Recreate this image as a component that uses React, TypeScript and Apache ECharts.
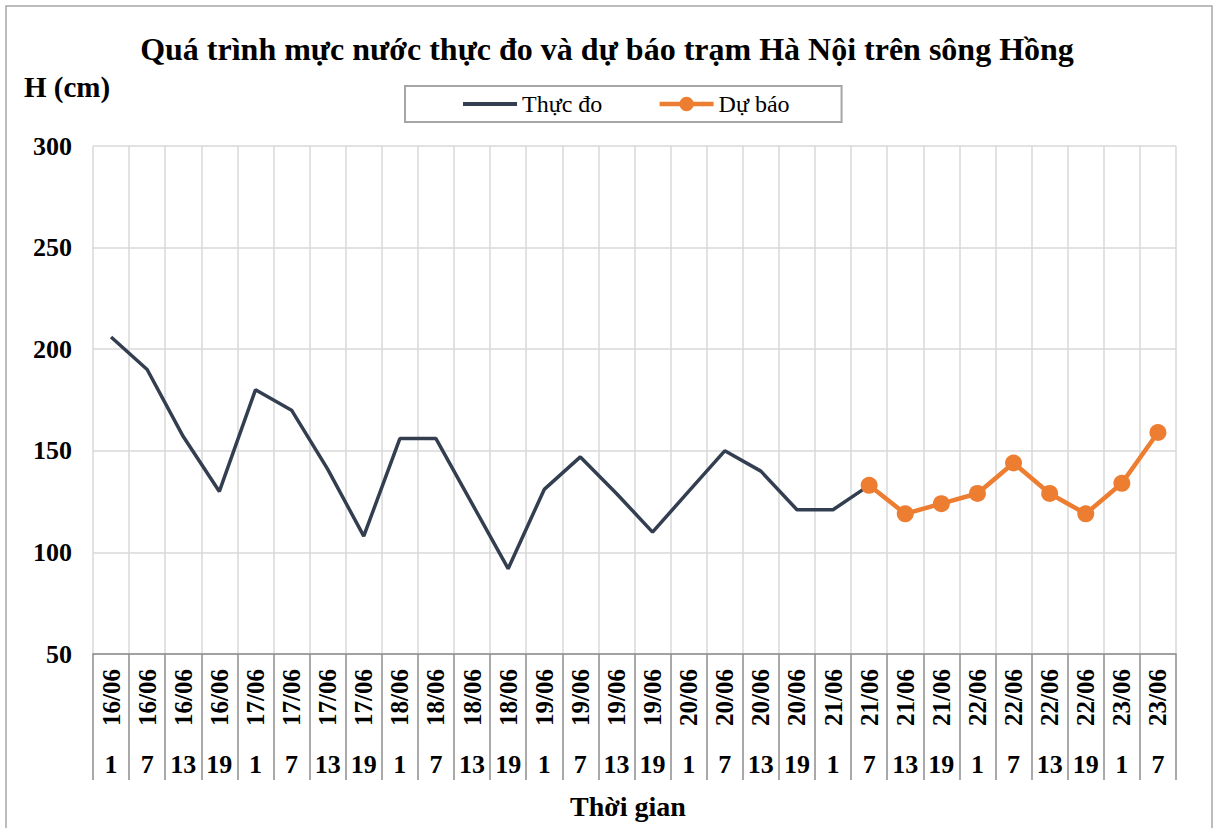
import React, { useEffect, useRef } from "react";
import * as echarts from "echarts";

const dates = [
  "16/06", "16/06", "16/06", "16/06",
  "17/06", "17/06", "17/06", "17/06",
  "18/06", "18/06", "18/06", "18/06",
  "19/06", "19/06", "19/06", "19/06",
  "20/06", "20/06", "20/06", "20/06",
  "21/06", "21/06", "21/06", "21/06",
  "22/06", "22/06", "22/06", "22/06",
  "23/06", "23/06",
];
const hours = [
  "1", "7", "13", "19", "1", "7", "13", "19", "1", "7", "13", "19",
  "1", "7", "13", "19", "1", "7", "13", "19", "1", "7", "13", "19",
  "1", "7", "13", "19", "1", "7",
];
// Measured (index 0..21)
const thucDo = [206, 190, 157, 130, 180, 170, 141, 108, 156, 156, 124, 92, 131, 147, 129, 110, 130, 150, 140, 121, 121, 133];
// Forecast starts at index 21
const duBaoStart = 21;
const duBao = [133, 119, 124, 129, 144, 129, 119, 134, 159];

const yTicks = { min: 50, max: 300, interval: 50 };

const FONT = "'Liberation Serif', 'Times New Roman', serif";

export default function App() {
  const ref = useRef<HTMLDivElement>(null);
  useEffect(() => {
    if (!ref.current) return;
    const chart = echarts.init(ref.current, undefined, { renderer: "svg" });
    const n = dates.length;
    const tdData: (number | null)[] = [];
    const dbData: (number | null)[] = [];
    for (let i = 0; i < n; i++) {
      tdData.push(i < thucDo.length ? thucDo[i] : null);
      const j = i - duBaoStart;
      dbData.push(j >= 0 && j < duBao.length ? duBao[j] : null);
    }
    chart.setOption({
      animation: false,
      backgroundColor: "#ffffff",
      title: {
        text: "Quá trình mực nước thực đo và dự báo trạm Hà Nội trên sông Hồng",
        left: "center",
        top: 28,
        textStyle: { fontFamily: FONT, fontWeight: "bold", fontSize: 32, color: "#000" },
      },
      legend: {
        left: 405,
        top: 86,
        padding: [6, 52, 6, 58],
        itemGap: 55,
        itemWidth: 54,
        itemHeight: 18,
        borderColor: "#a6a6a6",
        borderWidth: 2,
        textStyle: { fontFamily: FONT, fontSize: 24, color: "#000" },
        data: [
          {
            name: "Thực đo",
            icon: "path://M0,0 L54,0 L54,4 L0,4 Z",
            itemStyle: { color: "#333f50" },
          },
          { name: "Dự báo", lineStyle: { width: 4.5, color: "#ed7d31" } },
        ],
      },
      grid: { left: 93, top: 146, width: 1083, height: 508, containLabel: false },
      xAxis: [
        {
          type: "category",
          data: dates,
          position: "bottom",
          boundaryGap: true,
          axisLine: { show: true, lineStyle: { color: "#8c8c8c", width: 1.5 } },
          axisTick: { show: true, interval: 0, length: 126, lineStyle: { color: "#8c8c8c", width: 1.5 } },
          axisLabel: {
            interval: 0,
            rotate: 90,
            margin: 15,
            fontFamily: FONT,
            fontWeight: "bold",
            fontSize: 25,
            color: "#000",
          },
          splitLine: { show: true, interval: 0, lineStyle: { color: "#d9d9d9", width: 1.5 } },
        },
        {
          type: "category",
          data: hours,
          position: "bottom",
          boundaryGap: true,
          axisLine: { show: false },
          axisTick: { show: false },
          axisLabel: {
            interval: 0,
            margin: 97,
            fontFamily: FONT,
            fontWeight: "bold",
            fontSize: 26,
            color: "#000",
          },
          splitLine: { show: false },
        },
      ],
      yAxis: {
        type: "value",
        min: yTicks.min,
        max: yTicks.max,
        interval: yTicks.interval,
        axisLine: { show: false },
        axisTick: { show: false },
        axisLabel: { margin: 21, fontFamily: FONT, fontWeight: "bold", fontSize: 26, color: "#000" },
        splitLine: { show: true, lineStyle: { color: "#d9d9d9", width: 1.5 } },
      },
      series: [
        {
          name: "Thực đo",
          type: "line",
          xAxisIndex: 0,
          data: tdData,
          symbol: "none",
          lineStyle: { color: "#333f50", width: 3.5 },
          itemStyle: { color: "#333f50" },
          z: 2,
        },
        {
          name: "Dự báo",
          type: "line",
          xAxisIndex: 0,
          data: dbData,
          symbol: "circle",
          symbolSize: 17,
          lineStyle: { color: "#ed7d31", width: 4.5 },
          itemStyle: { color: "#ed7d31" },
          z: 3,
        },
      ],
      graphic: [
        {
          type: "rect",
          shape: { x: 6, y: 6, width: 1206, height: 830 },
          style: { fill: "none", stroke: "#a6a6a6", lineWidth: 1.5 },
          silent: true,
        },
        {
          type: "text",
          x: 24,
          y: 87,
          style: {
            text: "H (cm)",
            font: `bold 29px ${FONT}`,
            fill: "#000",
            verticalAlign: "middle",
            align: "left",
          },
        },
        {
          type: "text",
          x: 628,
          y: 806,
          style: {
            text: "Thời gian",
            font: `bold 28px ${FONT}`,
            fill: "#000",
            verticalAlign: "middle",
            align: "center",
          },
        },
      ],
    });
    return () => chart.dispose();
  }, []);
  return (
    <div
      ref={ref}
      style={{ position: "absolute", left: 0, top: 0, width: 1214, height: 828, background: "#fff" }}
    />
  );
}
